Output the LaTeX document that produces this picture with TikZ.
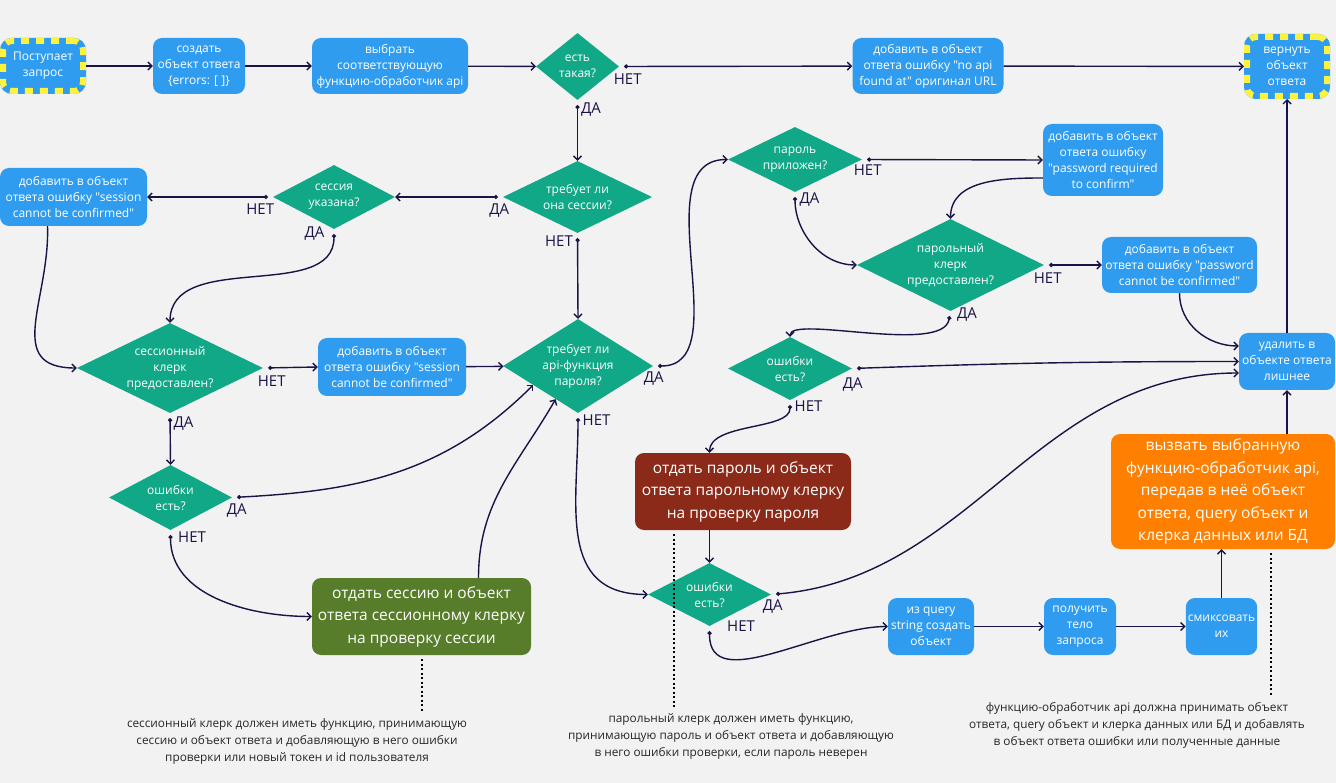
\documentclass[tikz,border=0pt]{standalone}
\usepackage{fontspec}
\setmainfont{Open Sans}[Ligatures=TeXOff]
\usepackage{tikz}
\usetikzlibrary{shapes.geometric}
\usetikzlibrary{arrows.meta}
\definecolor{canvas}{HTML}{F2F2F2}
\definecolor{boxblue}{HTML}{2F9CF0}
\definecolor{askgreen}{HTML}{10A887}
\definecolor{sessgreen}{HTML}{577C2A}
\definecolor{passbrown}{HTML}{8B2A19}
\definecolor{callorange}{HTML}{FF8000}
\definecolor{wirenavy}{HTML}{1A1446}
\definecolor{dashyellow}{HTML}{FFF23C}
\tikzset{step node/.style={rectangle, rounded corners=9pt, fill=boxblue, text=white, align=center,
    inner sep=2pt, font=\fontsize{12pt}{16pt}\selectfont}}
\tikzset{end node/.style={step node, draw=dashyellow, line width=6pt, dash pattern=on 8pt off 7pt,
    preaction={draw=boxblue, line width=6pt, solid}}}
\tikzset{big node/.style={step node, font=\fontsize{15.5pt}{22.5pt}\selectfont}}
\tikzset{ask node/.style={diamond, fill=askgreen, text=white, align=center, inner sep=0pt,
    font=\fontsize{12pt}{16pt}\selectfont}}
\tikzset{note node/.style={align=center, text=black!85, inner sep=6pt, font=\fontsize{11.8pt}{17pt}\selectfont}}
\tikzset{flow edge/.style={draw=wirenavy, line width=1.4pt, -{Straight Barb[length=4pt,width=8pt]}}}
\tikzset{branch edge/.style={flow edge, {Circle[length=4pt]}-{Straight Barb[length=4pt,width=8pt]}, shorten <=5pt}}
\tikzset{hint edge/.style={draw=black, line width=2pt, dash pattern=on 2pt off 2.5pt, shorten <=4pt}}
\tikzset{answer/.style={text=wirenavy, inner sep=1pt, font=\fontsize{15pt}{18pt}\selectfont}}

\begin{document}
\begin{tikzpicture}
  [x=1pt, y=-1pt]
  \path [use as bounding box, fill=canvas] (0,0) rectangle (1336,783);

  \node [end node,  minimum width=80pt,  minimum height=50pt]              (request)   at (  43,   66) {Поступает\\запрос};
  \node [step node, minimum width=92pt,  minimum height=56pt]              (create)    at ( 199,   66) {создать\\объект ответа\\\{errors: [ ]\}};
  \node [step node, minimum width=156pt, minimum height=56pt]              (choose)    at ( 390,   66) {выбрать\\соответствующую\\функцию-обработчик api};
  \node [ask node,  minimum width=83pt,  minimum height=67pt, aspect=1.24] (found)     at (577.5, 66.5) {есть\\такая?};
  \node [step node, minimum width=151pt, minimum height=56pt]              (noapi)     at ( 928,   66) {добавить в объект\\ответа ошибку "no api\\found at" оригинал URL};
  \node [end node,  minimum width=80pt,  minimum height=59pt]              (reply)     at (1287, 66.5) {вернуть\\объект\\ответа};

  \node [ask node,  minimum width=149pt, minimum height=72pt, aspect=2.07] (needsess)  at (577.5,  197) {требует ли\\она сессии?};
  \node [ask node,  minimum width=122pt, minimum height=64pt, aspect=1.9]  (sessgiven) at ( 334,  197) {сессия\\указана?};
  \node [step node, minimum width=147pt, minimum height=58pt]              (sesserr1)  at (73.5,  197) {добавить в объект\\ответа ошибку "session\\cannot be confirmed"};
  \node [ask node,  minimum width=134pt, minimum height=65pt, aspect=2.06] (pwgiven)   at ( 795, 159.5) {пароль\\приложен?};
  \node [step node, minimum width=120pt, minimum height=72pt]              (pwreq)     at (1103,  160) {добавить в объект\\ответа ошибку\\"password required\\to confirm"};
  \node [ask node,  minimum width=187pt, minimum height=92pt, aspect=2.03] (pwclerk)   at (950.5,  265) {парольный\\клерк\\предоставлен?};
  \node [step node, minimum width=155pt, minimum height=56pt]              (pwnot)     at (1179.5, 265) {добавить в объект\\ответа ошибку "password\\cannot be confirmed"};

  \node [ask node,  minimum width=186pt, minimum height=90pt, aspect=2.07] (sessclerk) at ( 170,  368) {сессионный\\клерк\\предоставлен?};
  \node [step node, minimum width=148pt, minimum height=58pt]              (sesserr2)  at ( 392,  367) {добавить в объект\\ответа ошибку "session\\cannot be confirmed"};
  \node [ask node,  minimum width=150pt, minimum height=94pt, aspect=1.6]  (needpass)  at ( 578,  366) {требует ли\\api-функция\\пароля?};
  \node [ask node,  minimum width=124pt, minimum height=63pt, aspect=1.97] (pwerrs)    at ( 790, 368.5) {ошибки\\есть?};
  \node [step node, minimum width=96pt,  minimum height=57pt]              (cleanup)   at (1287, 361.5) {удалить в\\объекте ответа\\лишнее};

  \node [ask node,  minimum width=123pt, minimum height=65pt, aspect=1.9]  (sesserrs)  at (170.5, 497.5) {ошибки\\есть?};
  \node [big node, fill=sessgreen,  minimum width=219pt, minimum height=77pt]  (sesscheck) at (421.5, 616.5) {отдать сессию и объект\\ответа сессионному клерку\\на проверку сессии};
  \node [big node, fill=passbrown,  minimum width=216pt, minimum height=77pt]  (pwcheck)   at ( 743, 491.5) {отдать пароль и объект\\ответа парольному клерку\\на проверку пароля};
  \node [big node, fill=callorange, minimum width=224pt, minimum height=115pt] (call)      at (1223, 491.5) {вызвать выбранную\\функцию-обработчик api,\\передав в неё объект\\ответа, query объект и\\клерка данных или БД};
  \node [ask node,  minimum width=123pt, minimum height=63pt, aspect=1.95] (finalerrs) at (709.5, 594.5) {ошибки\\есть?};
  \node [step node, minimum width=86pt,  minimum height=57pt]              (query)     at ( 931, 626.5) {из query\\string создать\\объект};
  \node [step node, minimum width=72pt,  minimum height=57pt]              (body)      at (1080, 626.5) {получить\\тело\\запроса};
  \node [step node, minimum width=71pt,  minimum height=57pt]              (mix)       at (1221.5, 626.5) {смиксовать\\их};

  \node [note node] (sessnote) at ( 297,  741) {сессионный клерк должен иметь функцию, принимающую\\сессию и объект ответа и добавляющую в него ошибки\\проверки или новый токен и id пользователя};
  \node [note node] (pwnote)   at ( 731,  736) {парольный клерк должен иметь функцию,\\принимающую пароль и объект ответа и добавляющую\\в него ошибки проверки, если пароль неверен};
  \node [note node] (apinote)  at (1137, 725.5) {функцию-обработчик api должна принимать объект\\ответа, query объект и клерка данных или БД и добавлять\\в объект ответа ошибки или полученные данные};

  % main line
  \draw [flow edge]   (request)          --                                     (create);
  \draw [flow edge]   (create)           --                                     (choose);
  \draw [flow edge]   (choose)           --                                     (found);
  \draw [branch edge] (found.east)       --  node [answer, pos=0, anchor=north west, xshift=-7pt,  yshift=-6pt] {НЕТ} (noapi);
  \draw [flow edge]   (noapi)            --                                     (reply);
  \draw [branch edge] (found.south)      --  node [answer, pos=0, anchor=north west, xshift=2pt,   yshift=-1pt] {ДА}  (needsess.north);

  % session branch
  \draw [branch edge] (needsess.west)    --  node [answer, pos=0, anchor=north east, xshift=8pt,   yshift=-5pt] {ДА}  (sessgiven.east);
  \draw [branch edge] (sessgiven.west)   --  node [answer, pos=0, anchor=north east, xshift=3pt,   yshift=-5pt] {НЕТ} (sesserr1.east);
  \draw [flow edge]   ([xshift=-26pt]sesserr1.south) to [out=-88, in=180, looseness=1.3]                       (sessclerk.west);
  \draw [branch edge] (sessgiven.south)  to [out=-90, in=90]   node [answer, pos=0, anchor=north east, xshift=-8pt,  yshift=4pt]  {ДА}  (sessclerk.north);
  \draw [branch edge] (needsess.south)   --  node [answer, pos=0, anchor=north east, xshift=-3pt,  yshift=-1pt] {НЕТ} (needpass.north);
  \draw [branch edge] (sessclerk.east)   --  node [answer, pos=0, anchor=north west, xshift=-7pt,  yshift=-6pt] {НЕТ} (sesserr2.west);
  \draw [flow edge]   (sesserr2)         --                                     (needpass);
  \draw [branch edge] (sessclerk.south)  --  node [answer, pos=0, anchor=north west, xshift=2pt,   yshift=-2pt] {ДА}  (sesserrs.north);
  \draw [branch edge] (sesserrs.east)    to [out=3, in=-135]   node [answer, pos=0, anchor=north west, xshift=-7pt,  yshift=-5pt] {ДА}  (needpass.203);
  \draw [branch edge] (sesserrs.south)   to [out=-90, in=180]  node [answer, pos=0, anchor=north west, xshift=6pt,   yshift=0pt]  {НЕТ} (sesscheck.west);
  \draw [flow edge]   ([xshift=57pt]sesscheck.north) to [out=90, in=-120]                                     (needpass.236);

  % password branch
  \draw [branch edge] (needpass.east)    to [out=0, in=180]    node [answer, pos=0, anchor=north west, xshift=-11pt, yshift=-4pt] {ДА}  (pwgiven.west);
  \draw [branch edge] (needpass.south)   to [out=-90, in=180, looseness=1.2] node [answer, pos=0, anchor=north west, xshift=3pt, yshift=0pt] {НЕТ} (finalerrs.west);
  \draw [branch edge] (pwgiven.east)     --  node [answer, pos=0, anchor=north west, xshift=-10pt, yshift=-4pt] {НЕТ} (pwreq.west);
  \draw [branch edge] (pwgiven.south)    to [out=-90, in=180]  node [answer, pos=0, anchor=north west, xshift=3pt,   yshift=1pt]  {ДА}  (pwclerk.west);
  \draw [flow edge]   ([yshift=-18pt]pwreq.west) to [out=180, in=90]                                          (pwclerk.north);
  \draw [branch edge] (pwclerk.east)     --  node [answer, pos=0, anchor=north west, xshift=-12pt, yshift=-6pt] {НЕТ} (pwnot.west);
  \draw [branch edge] (pwclerk.south)    to [out=-100, in=90, out looseness=0.7, in looseness=0.35] node [answer, pos=0, anchor=north west, xshift=5pt, yshift=5pt] {ДА} (pwerrs.north);
  \draw [flow edge]   (pwnot.south)      to [out=-90, in=180]                                                (cleanup.west |- 0,346);
  \draw [branch edge] (pwerrs.east)      to [out=2, in=180]    node [answer, pos=0, anchor=north west, xshift=-11pt, yshift=-8pt] {ДА}  (cleanup.west);
  \draw [branch edge] (pwerrs.south)     to [out=-90, in=90, looseness=0.8] node [answer, pos=0, anchor=north west, xshift=3pt, yshift=1pt] {НЕТ} (pwcheck.north -| finalerrs.north);
  \draw [flow edge]   (pwcheck.south -| finalerrs.north) --                     (finalerrs.north);
  \draw [branch edge] (finalerrs.east)   to [out=5, in=180]    node [answer, pos=0, anchor=north west, xshift=-10pt, yshift=-4pt] {ДА}  (cleanup.west |- 0,373);
  \draw [branch edge] (finalerrs.south)  to [out=-90, in=180]  node [answer, pos=0, anchor=north west, xshift=16pt,  yshift=7pt]  {НЕТ} (query.west);
  \draw [flow edge]   (query)            --                                     (body);
  \draw [flow edge]   (body)             --                                     (mix);
  \draw [flow edge]   (mix.north)        --                                     (mix.north |- call.south);
  \draw [flow edge]   (call.north -| cleanup.south) --                          (cleanup.south);
  \draw [flow edge]   (cleanup)          --                                     (reply);

  % notes
  \draw [hint edge]   (sesscheck.south)  --  (sesscheck.south |- sessnote.north);
  \draw [hint edge]   ([xshift=-69pt]pwcheck.south) -- ([xshift=-69pt]pwcheck.south |- pwnote.north);
  \draw [hint edge]   ([xshift=48pt]call.south)     -- ([xshift=48pt]call.south |- apinote.north);
\end{tikzpicture}
\end{document}
